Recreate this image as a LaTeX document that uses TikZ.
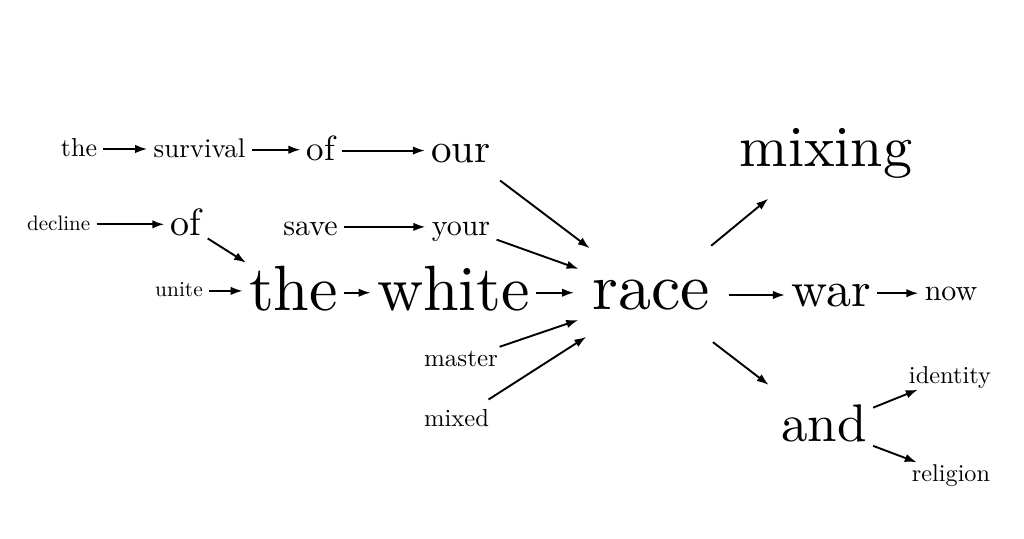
\documentclass[tikz,border=0pt]{standalone}
\usepackage{fontspec}
\setmainfont{lmroman10-regular.otf}
\usepackage{tikz}
\usetikzlibrary{arrows.meta}

\tikzset{
  word/.code={%
    \pgfmathsetlengthmacro\wordht{0.62*#1pt}%
    \pgfmathsetlengthmacro\worddp{0.08*#1pt}%
    \tikzset{font=\fontsize{#1pt}{#1pt}\selectfont, anchor=base,
      inner xsep=3pt, inner ysep=2pt,
      text height=\wordht, text depth=\worddp}},
  hub/.style={circle, minimum size=77pt, inner sep=0pt,
    text height=15pt, text depth=1pt},
  arr/.style={-{Latex[length=6pt,width=4.2pt]}, line width=0.95pt},
}

\begin{document}
\begin{tikzpicture}[x=0.5pt, y=0.5pt]
  \useasboundingbox (0,0) rectangle (1024,538);

  \node[word=13]   (the1)  at (79,382)    {the} ; %
  \node[word=13.5] (surv)  at (199.5,381) {survival} ; %
  \node[word=17.5] (of1)   at (321,378)   {of} ; %
  \node[word=20.5] (our)   at (461,376)   {our} ; %

  \node[word=10.5] (decl)  at (58.7,308)  {decline} ; %
  \node[word=19]   (of2)   at (186,303)   {of} ; %
  \node[word=15]   (save)  at (310.5,303) {save} ; %
  \node[word=15]   (your)  at (461,303)   {your} ; %

  \node[word=10.7] (unite) at (179,241.3) {unite} ; %
  \node[word=32]   (the2)  at (293.5,228) {the} ; %
  \node[word=32]   (white) at (453.5,228) {white} ; %
  \node[word=33, hub] (race) at (651.5,229) {race} ; %
  \node[word=25]   (war)   at (831,231.3) {war} ; %
  \node[word=15]   (now)   at (951,238)   {now} ; %

  \node[word=12.5] (mast)  at (461,171.3) {master} ; %
  \node[word=12.3] (mixed) at (456.5,111.3) {mixed} ; %

  \node[word=29]   (mixing) at (826,371.3) {mixing} ; %
  \node[word=26.5] (and)   at (824,96.3)  {and} ; %
  \node[word=12.2] (ident) at (950,154.7) {identity} ; %
  \node[word=12.1] (relig) at (951,56.3)  {religion} ; %

  % straight chains
  \draw[arr] (the1.east)  -- (the1.east -| surv.west);
  \draw[arr] (surv.east)  -- (surv.east -| of1.west);
  \draw[arr] (of1.east)   -- (of1.east -| our.west);
  \draw[arr] (decl.east)  -- (decl.east -| of2.west);
  \draw[arr] (save.east)  -- (save.east -| your.west);
  \draw[arr] (unite.east) -- (unite.east -| the2.west);
  \draw[arr] (the2.east)  -- (the2.east -| white.west);
  \draw[arr] (white.east) -- (white.east -| race.west);
  \draw[arr] (race.east)  -- (race.east -| war.west);
  \draw[arr] (war.east)   -- (war.east -| now.west);

  % into and out of race
  \draw[arr, shorten >=3pt] (of2) -- (the2);
  \draw[arr, shorten <=9pt] (our) -- (race);
  \draw[arr] (your) -- (race);
  \draw[arr] (mast) -- (race);
  \draw[arr, shorten <=7pt] (mixed) -- (race);
  \draw[arr, shorten >=18pt] (race) -- (mixing);
  \draw[arr, shorten >=16pt] (race) -- (and);
  \draw[arr] (and) -- (ident);
  \draw[arr] (and) -- (relig);

\end{tikzpicture}
\end{document}
